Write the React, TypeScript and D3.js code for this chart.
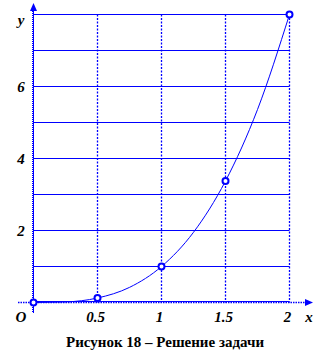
import React from "react";
import * as d3 from "d3";

const curveX = [0, 0.25, 0.5, 0.75, 1, 1.25, 1.5, 1.75, 2];
const curveY = [0, 0.016, 0.125, 0.42, 1, 1.95, 3.375, 5.36, 8];
const markX = [0, 0.5, 1, 1.5, 2];
const markY = [0, 0.125, 1, 3.375, 8];
const xTicks = [0.5, 1, 1.5, 2];
const xTickLabels = ["0.5", "1", "1.5", "2"];
const yTicks = [2, 4, 6];
const yTickLabels = ["2", "4", "6"];
const yGrid = [1, 2, 3, 4, 5, 6, 7, 8];
const caption = "Рисунок 18 – Решение задачи";

const BLUE = "#0000ff";
const FONT = "'Liberation Serif', 'Times New Roman', serif";

export default function App() {
  const x = d3.scaleLinear().domain([0, 2]).range([33.5, 289.5]);
  const y = d3.scaleLinear().domain([0, 8]).range([302.5, 14.5]);
  const line = d3
    .line<number>()
    .x((_, i) => x(curveX[i]))
    .y((d) => y(d))
    .curve(d3.curveMonotoneX);

  return (
    <svg
      width={332}
      height={364}
      style={{ position: "absolute", left: 0, top: 0, background: "#fff" }}
    >
      {yGrid.map((v) => (
        <line key={"h" + v} x1={x(0)} x2={x(2)} y1={y(v)} y2={y(v)} stroke={BLUE} strokeWidth={1.2} />
      ))}
      {xTicks.map((v) => (
        <line
          key={"v" + v}
          x1={x(v)}
          x2={x(v)}
          y1={y(8)}
          y2={y(0)}
          stroke={BLUE}
          strokeWidth={1.3}
          strokeDasharray="2,1.5"
        />
      ))}
      <line x1={x(0)} x2={x(2)} y1={y(0) - 1} y2={y(0) - 1} stroke={BLUE} strokeWidth={1} />
      <line x1={18} x2={306} y1={y(0)} y2={y(0)} stroke={BLUE} strokeWidth={1.5} strokeDasharray="1.5,1" />
      <path d={`M313,${y(0)} L305,${y(0) - 3.5} L305,${y(0) + 3.5} Z`} fill={BLUE} />
      <line x1={x(0)} x2={x(0)} y1={9} y2={313} stroke={BLUE} strokeWidth={1} />
      <line x1={x(0) - 1} x2={x(0) - 1} y1={9} y2={313} stroke={BLUE} strokeWidth={1} strokeDasharray="1,1" />
      <path d={`M${x(0)},3 L${x(0) - 3.5},11 L${x(0) + 3.5},11 Z`} fill={BLUE} />
      <path d={line(curveY) || ""} fill="none" stroke={BLUE} strokeWidth={1} />
      {markX.map((v, i) => (
        <circle key={"m" + i} cx={x(v)} cy={y(markY[i])} r={3} fill="#fff" stroke={BLUE} strokeWidth={2} />
      ))}
      <g fontFamily={FONT} fontWeight="bold" fontStyle="italic" fontSize={15} fill="#000">
        <text x={21} y={25} textAnchor="middle">y</text>
        {yTicks.map((v, i) => (
          <text key={"yt" + v} x={21} y={y(v) + 5} textAnchor="middle">
            {yTickLabels[i]}
          </text>
        ))}
        <text x={21} y={322} textAnchor="middle">O</text>
        {xTicks.map((v, i) => (
          <text key={"xt" + v} x={x(v) - 2} y={322} textAnchor="middle">
            {xTickLabels[i]}
          </text>
        ))}
        <text x={309} y={322} textAnchor="middle">x</text>
      </g>
      <text
        x={165}
        y={347}
        textAnchor="middle"
        fontFamily={FONT}
        fontWeight="bold"
        fontSize={15}
        fill="#000"
      >
        {caption}
      </text>
    </svg>
  );
}
